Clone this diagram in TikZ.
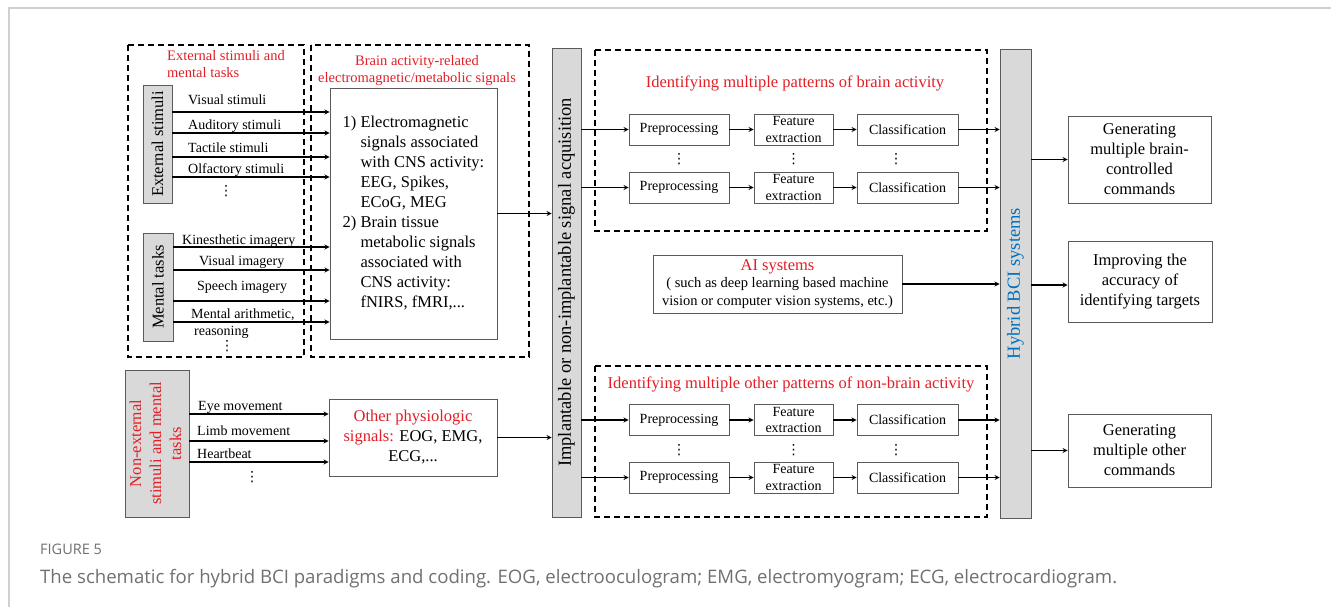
\documentclass[tikz,border=0pt]{standalone}
\usepackage{fontspec}
\setmainfont{Liberation Serif}
\newfontfamily\capfont{Open Sans}
\newfontfamily\dotfont{DejaVu Sans}
\usepackage{xcolor}
\usepackage{tikz}
\definecolor{txtred}{RGB}{226,30,38}
\definecolor{bciblue}{RGB}{0,112,192}
\definecolor{barfill}{RGB}{217,217,217}
\definecolor{boxline}{RGB}{90,90,90}
\definecolor{framegray}{RGB}{208,208,208}
\definecolor{capgray}{RGB}{112,112,112}

\begin{document}
\begin{tikzpicture}[x=1pt, y=-1pt,
		box/.style={draw=boxline, line width=0.9pt, fill=white, inner sep=0pt, align=center, font=\fontsize{16.5}{20}\selectfont},
		stage/.style={box, minimum height=31, font=\fontsize{14}{16.5}\selectfont},
		bar/.style={draw=boxline, line width=0.9pt, fill=barfill, inner sep=0pt, font=\fontsize{16.5}{20}\selectfont},
		dashbox/.style={draw, line width=1.3pt, dash pattern=on 6pt off 4pt},
		arr/.style={-stealth, line width=1.2pt},
		lab/.style={anchor=base west, inner sep=0pt, font=\fontsize{14}{16}\selectfont},
		redlab/.style={inner sep=0pt, text=txtred, font=\fontsize{14.5}{17}\selectfont},
		vdot/.style={inner sep=0pt, font=\dotfont\fontsize{14}{16}\selectfont}
	]
			\def\prex{679};
			\def\featx{793.5};
			\def\clsx{907.5};

			\useasboundingbox (0,0) rectangle (1331,607);
			\draw[framegray, line width=2pt] (9,607) -- (9,8) -- (1331,8);

			\begin{scope}[dashbox]
				\draw (128,45) rectangle (304,357);
				\draw (311,45) rectangle (529,357);
				\draw (595,50) rectangle (987,231);
				\draw (595,366) rectangle (987,517);
			\end{scope}

			\node[redlab, align=left, anchor=north west] (exttitle) at (167,50) {External stimuli and\\mental tasks};
			\node[redlab, align=center, anchor=north] (sigtitle) at (417,55) {Brain activity-related\\electromagnetic/metabolic signals};

			\node[bar, minimum width=29, minimum height=118] (extstim) at (157.5,144) {\rotatebox{90}{External stimuli}};
			\node[bar, minimum width=30, minimum height=108] (mental) at (158,287) {\rotatebox{90}{Mental tasks}};
			\node[bar, minimum width=64, minimum height=147, text=txtred] (nonext) at (157,443.5) {\rotatebox{90}{\begin{tabular}{@{}c@{}}Non-external\\stimuli and mental\\tasks\end{tabular}}};

			\node[box, minimum width=167, minimum height=251] (brainsig) at (413.5,213.5) {\begin{tabular}{@{}l@{\ }l@{}}
				1) & Electromagnetic\\ & signals associated\\ & with CNS activity:\\ & EEG, Spikes,\\ & ECoG, MEG\\
				2) & Brain tissue\\ & metabolic signals\\ & associated with\\ & CNS activity:\\ & fNIRS, fMRI,...
			\end{tabular}};
			\node[box, minimum width=168, minimum height=77] (othersig) at (413,437.5) {\textcolor{txtred}{Other physiologic}\\\textcolor{txtred}{signals:} EOG, EMG,\\ECG,...};

			\begin{scope}[arr]
				\draw (extstim.east |- 0,112) -- (brainsig.west |- 0,112);
				\draw (extstim.east |- 0,133) -- (brainsig.west |- 0,133);
				\draw (extstim.east |- 0,157) -- (brainsig.west |- 0,157);
				\draw (extstim.east |- 0,177) -- (brainsig.west |- 0,177);
				\draw (mental.east |- 0,247) -- (brainsig.west |- 0,247);
				\draw (mental.east |- 0,270) -- (brainsig.west |- 0,270);
				\draw (mental.east |- 0,301) -- (brainsig.west |- 0,301);
				\draw (mental.east |- 0,322) -- (brainsig.west |- 0,322);
				\draw (nonext.east |- 0,414) -- (othersig.west |- 0,414);
				\draw (nonext.east |- 0,441) -- (othersig.west |- 0,441);
				\draw (nonext.east |- 0,462) -- (othersig.west |- 0,462);
			\end{scope}

			\node[lab] (visstim) at (188,105) {Visual stimuli};
			\node[lab] (audstim) at (188,130) {Auditory stimuli};
			\node[lab] (tacstim) at (188,152.5) {Tactile stimuli};
			\node[lab] (olfstim) at (188,174) {Olfactory stimuli};
			\node[vdot] (extdots) at (226,191) {⋮};
			\node[lab] (kinimg) at (182,244) {Kinesthetic imagery};
			\node[lab] (visimg) at (199,265) {Visual imagery};
			\node[lab] (speimg) at (197,290) {Speech imagery};
			\node[lab] (mentar) at (191,318) {Mental arithmetic,};
			\node[lab] (reason) at (194,335) {reasoning};
			\node[vdot] (mentdots) at (227,346) {⋮};
			\node[lab] (eyemov) at (198,410) {Eye movement};
			\node[lab] (limbmov) at (197,435) {Limb movement};
			\node[lab] (heart) at (197,458) {Heartbeat};
			\node[vdot] (nondots) at (252,477) {⋮};

			\node[bar, minimum width=29, minimum height=469, font=\fontsize{18.5}{22}\selectfont] (acq) at (566.5,282.5) {\rotatebox{90}{Implantable or non-implantable signal acquisition}};
			\node[bar, minimum width=31, minimum height=469, text=bciblue, font=\fontsize{18.5}{22}\selectfont] (hybrid) at (1015.5,283.5) {\rotatebox{90}{Hybrid BCI systems}};

			\draw[arr] (brainsig.east) -- (brainsig.east -| acq.west);
			\draw[arr] (othersig.east) -- (othersig.east -| acq.west);

			\node[redlab, anchor=base, font=\fontsize{16.5}{20}\selectfont] (braintitle) at (795,88) {Identifying multiple patterns of brain activity};
			\node[redlab, anchor=base, font=\fontsize{16.5}{20}\selectfont] (othertitle) at (791,388) {Identifying multiple other patterns of non-brain activity};

			\node[stage, minimum width=100] (pre1) at (\prex,129.5) {Preprocessing};
			\node[stage, minimum width=79] (feat1) at (\featx,129.5) {Feature\\extraction};
			\node[stage, minimum width=101] (cls1) at (\clsx,129.5) {Classification};
			\node[stage, minimum width=100] (pre2) at (\prex,187.5) {Preprocessing};
			\node[stage, minimum width=79] (feat2) at (\featx,187.5) {Feature\\extraction};
			\node[stage, minimum width=101] (cls2) at (\clsx,187.5) {Classification};
			\node[stage, minimum width=100] (pre3) at (\prex,420) {Preprocessing};
			\node[stage, minimum width=79] (feat3) at (\featx,420) {Feature\\extraction};
			\node[stage, minimum width=101] (cls3) at (\clsx,420) {Classification};
			\node[stage, minimum width=100] (pre4) at (\prex,477.5) {Preprocessing};
			\node[stage, minimum width=79] (feat4) at (\featx,477.5) {Feature\\extraction};
			\node[stage, minimum width=101] (cls4) at (\clsx,477.5) {Classification};

			\node[vdot] (predots1) at (\prex,159) {⋮};
			\node[vdot] (featdots1) at (\featx,159) {⋮};
			\node[vdot] (clsdots1) at (896,159) {⋮};
			\node[vdot] (predots2) at (\prex,450) {⋮};
			\node[vdot] (featdots2) at (\featx,450) {⋮};
			\node[vdot] (clsdots2) at (896,450) {⋮};

			\begin{scope}[arr]
				\draw (acq.east |- pre1) -- (pre1);
				\draw (pre1) -- (feat1);
				\draw (feat1) -- (cls1);
				\draw (cls1) -- (cls1 -| hybrid.west);
				\draw (acq.east |- pre2) -- (pre2);
				\draw (pre2) -- (feat2);
				\draw (feat2) -- (cls2);
				\draw (cls2) -- (cls2 -| hybrid.west);
				\draw (acq.east |- pre3) -- (pre3);
				\draw (pre3) -- (feat3);
				\draw (feat3) -- (cls3);
				\draw (cls3) -- (cls3 -| hybrid.west);
				\draw (acq.east |- pre4) -- (pre4);
				\draw (pre4) -- (feat4);
				\draw (feat4) -- (cls4);
				\draw (cls4) -- (cls4 -| hybrid.west);
			\end{scope}

			\node[box, minimum width=249, minimum height=58, font=\fontsize{14.5}{17.5}\selectfont] (aisys) at (777.5,284) {{\fontsize{16.5}{17.5}\selectfont\textcolor{txtred}{AI systems}}\\( such as deep learning based machine\\vision or computer vision systems, etc.)};
			\draw[arr] (aisys) -- (aisys -| hybrid.west);

			\node[box, minimum width=143, minimum height=87] (cmdbrain) at (1139.5,159.5) {Generating\\multiple brain-\\controlled\\commands};
			\node[box, minimum width=144, minimum height=81] (accuracy) at (1140,281.5) {Improving the\\accuracy of\\identifying targets};
			\node[box, minimum width=143, minimum height=73] (cmdother) at (1139.5,450.5) {Generating\\multiple other\\commands};

			\begin{scope}[arr]
				\draw (hybrid.east |- cmdbrain) -- (cmdbrain);
				\draw (hybrid.east |- 0,285) -- (accuracy.west |- 0,285);
				\draw (hybrid.east |- cmdother) -- (cmdother);
			\end{scope}

			\node[anchor=base west, inner sep=0pt, text=capgray, font=\capfont\fontsize{14.5}{16}\selectfont] (figno) at (40,554) {FIGURE 5};
			\node[anchor=base west, inner sep=0pt, text=capgray, font=\capfont\fontsize{18.6}{20}\selectfont] (caption) at (40,583) {The schematic for hybrid BCI paradigms and coding. EOG, electrooculogram; EMG, electromyogram; ECG, electrocardiogram.};
		\end{tikzpicture}
\end{document}
